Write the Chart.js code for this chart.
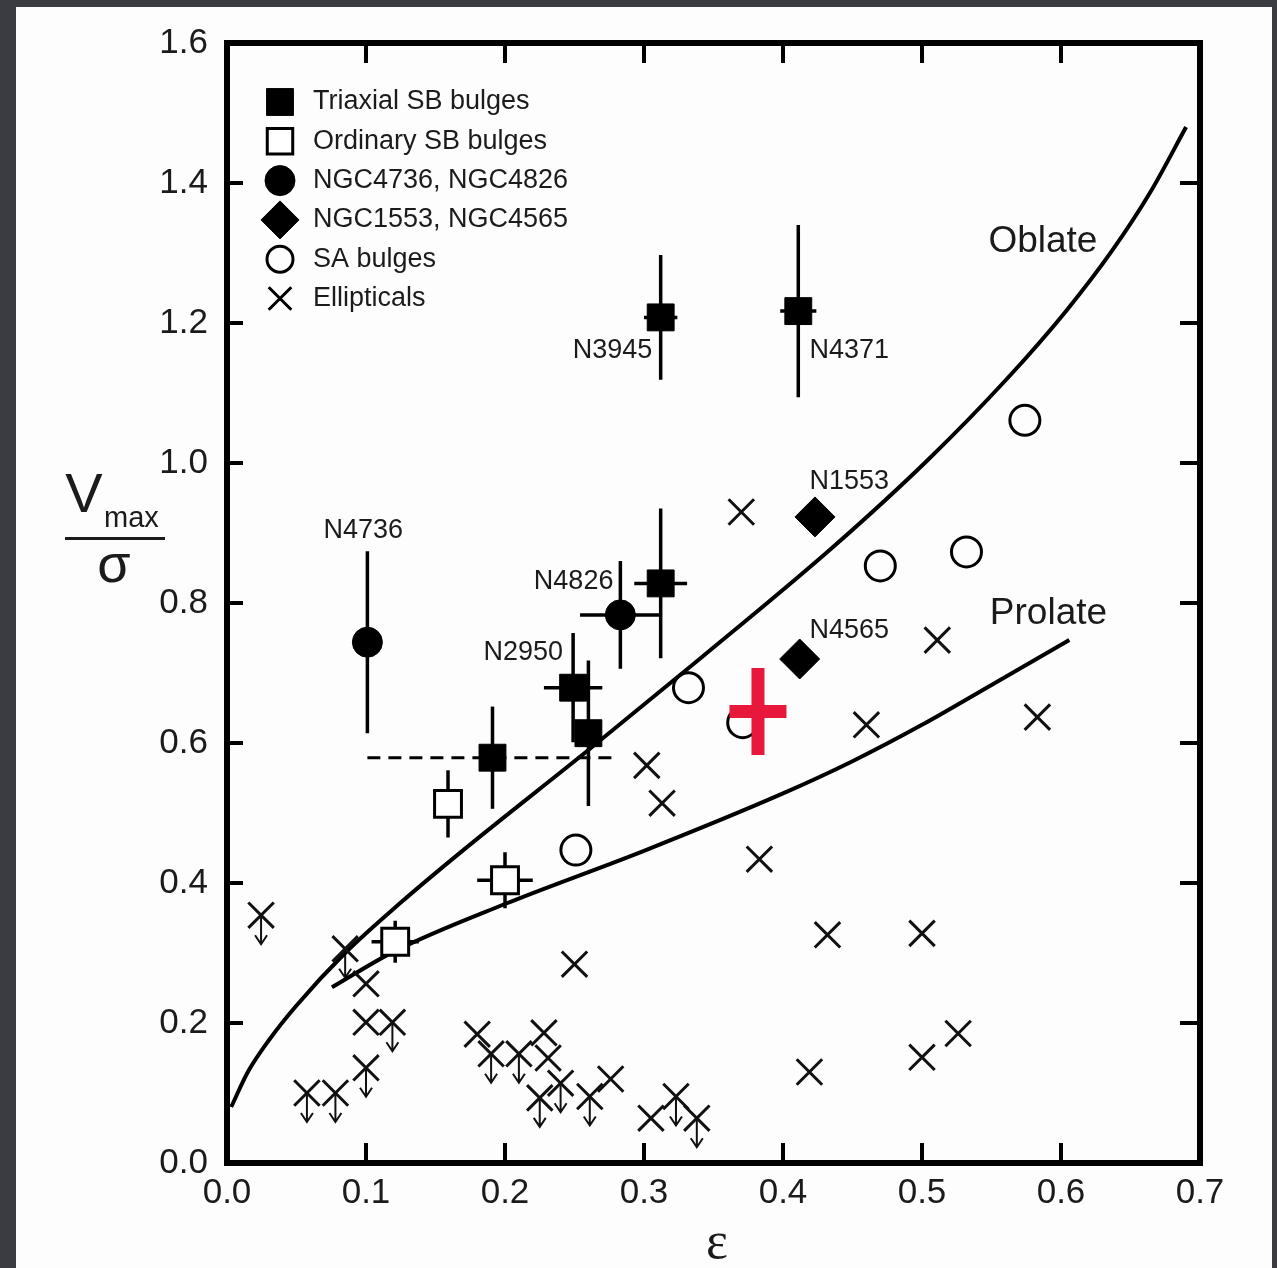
<!DOCTYPE html>
<html>
<head>
<meta charset="utf-8">
<script src="https://cdn.jsdelivr.net/npm/chart.js@4.4.0/dist/chart.umd.min.js"></script>
<style>
  html, body { margin: 0; padding: 0; background: #3b3c41; }
  canvas { display: block; }
</style>
</head>
<body>
<canvas id="chart" width="1277" height="1268"></canvas>
<script>
// values: x = ellipticity (eps), y = Vmax / sigma

// Triaxial SB bulges (filled squares) with error bars
const triEps  = [0.312, 0.411, 0.312, 0.249, 0.260, 0.191];
const triV    = [1.208, 1.217, 0.828, 0.679, 0.614, 0.579];
const triEpsErr = [0.012, 0.013, 0.019, 0.021, 0, 0];
const triVErr   = [0.089, 0.123, 0.107, 0.078, 0.104, 0.073];

// dashed range drawn for the bulge at eps ~0.19
const dashEps = [0.101, 0.281];
const dashV   = [0.579, 0.579];

// Ordinary SB bulges (open squares)
const ordEps  = [0.159, 0.200, 0.121];
const ordV    = [0.513, 0.404, 0.316];
const ordEpsErr = [0, 0.020, 0.017];
const ordVErr   = [0.048, 0.040, 0.030];

// NGC4736, NGC4826 (filled circles)
const circEps = [0.101, 0.283];
const circV   = [0.744, 0.783];
const circEpsErr = [0, 0.029];
const circVErr   = [0.130, 0.077];

// NGC1553, NGC4565 (diamonds)
const diaEps = [0.423, 0.412];
const diaV   = [0.923, 0.720];

// SA bulges (open circles)
const saEps = [0.574, 0.532, 0.470, 0.332, 0.251, 0.371];
const saV   = [1.061, 0.873, 0.853, 0.679, 0.447, 0.629];

// Ellipticals (crosses)
const ellEps = [0.100, 0.100, 0.180, 0.228, 0.231, 0.276, 0.305, 0.250, 0.383, 0.432,
                0.500, 0.526, 0.500, 0.419, 0.370, 0.302, 0.313, 0.460, 0.511, 0.583];
const ellV   = [0.256, 0.201, 0.184, 0.186, 0.150, 0.120, 0.064, 0.284, 0.434, 0.326,
                0.328, 0.185, 0.151, 0.130, 0.930, 0.568, 0.514, 0.626, 0.747, 0.637];

// Ellipticals given as upper limits (cross + down arrow)
const limEps = [0.0245, 0.085, 0.119, 0.100, 0.0575, 0.078, 0.190, 0.210, 0.240, 0.225, 0.261, 0.323, 0.338];
const limV   = [0.354, 0.306, 0.201, 0.136, 0.100, 0.100, 0.156, 0.156, 0.114, 0.093, 0.095, 0.095, 0.064];

// red cross
const redEps = [0.382];
const redV   = [0.645];
const redEpsErr = [0.0205];
const redVErr   = [0.062];

// model curves
const oblateEps = [0.003, 0.015, 0.03, 0.05, 0.085, 0.125, 0.17, 0.26, 0.34, 0.436, 0.504, 0.561, 0.604, 0.637, 0.664, 0.69];
const oblateV   = [0.080, 0.130, 0.175, 0.225, 0.300, 0.372, 0.447, 0.590, 0.720, 0.880, 1.004, 1.120, 1.218, 1.304, 1.386, 1.48];
const prolateEps = [0.0755, 0.12, 0.2, 0.3, 0.4, 0.45, 0.5, 0.55, 0.606];
const prolateV   = [0.251, 0.302, 0.370, 0.446, 0.528, 0.574, 0.626, 0.683, 0.747];

// axis ranges and labels
const xTicks = { min: 0, max: 0.7, step: 0.1 };
const yTicks = { min: 0, max: 1.6, step: 0.2 };
const legendLabels = ['Triaxial SB bulges', 'Ordinary SB bulges', 'NGC4736, NGC4826', 'NGC1553, NGC4565', 'SA bulges', 'Ellipticals'];

// text notes on the plot
const noteText  = ['N3945', 'N4371', 'N1553', 'N4565', 'N4736', 'N4826', 'N2950', 'Oblate', 'Prolate'];
const noteEps   = [0.306, 0.419, 0.419, 0.419, 0.098, 0.278, 0.2417, 0.587, 0.591];
const noteV     = [1.160, 1.160, 0.974, 0.761, 0.904, 0.830, 0.729, 1.316, 0.784];
const noteAlign = ['right', 'left', 'left', 'left', 'center', 'right', 'right', 'center', 'center'];

const zip = (xs, ys) => xs.map((v, i) => ({ x: v, y: ys[i] }));

const FONT = '"Liberation Sans", Arial, Helvetica, sans-serif';
const INK = '#1b1b1b';

const datasets = [
    { label: 'Oblate', data: zip(oblateEps, oblateV), showLine: true, pointRadius: 0,
      borderColor: '#000', borderWidth: 4, cubicInterpolationMode: 'monotone', order: 10 },
    { label: 'Prolate', data: zip(prolateEps, prolateV), showLine: true, pointRadius: 0,
      borderColor: '#000', borderWidth: 4, cubicInterpolationMode: 'monotone', order: 10 },
    { label: 'range', data: zip(dashEps, dashV), showLine: true, pointRadius: 0,
      borderColor: '#000', borderWidth: 3, borderDash: [13, 8], order: 9 },
    { label: legendLabels[0], data: zip(triEps, triV), errX: triEpsErr, errY: triVErr,
      pointStyle: 'rect', pointRadius: 19, backgroundColor: '#000', borderColor: '#000', borderWidth: 1, order: 1 },
    { label: legendLabels[1], data: zip(ordEps, ordV), errX: ordEpsErr, errY: ordVErr,
      pointStyle: 'rect', pointRadius: 19, backgroundColor: '#fff', borderColor: '#000', borderWidth: 3, order: 1 },
    { label: legendLabels[2], data: zip(circEps, circV), errX: circEpsErr, errY: circVErr,
      pointStyle: 'circle', pointRadius: 15, backgroundColor: '#000', borderColor: '#000', borderWidth: 1, order: 1 },
    { label: legendLabels[3], data: zip(diaEps, diaV),
      pointStyle: 'rectRot', pointRadius: 20, backgroundColor: '#000', borderColor: '#000', borderWidth: 1, order: 1 },
    { label: legendLabels[4], data: zip(saEps, saV),
      pointStyle: 'circle', pointRadius: 15, backgroundColor: 'rgba(255,255,255,0)', borderColor: '#000', borderWidth: 3, order: 1 },
    { label: legendLabels[5], data: zip(ellEps, ellV),
      pointStyle: 'crossRot', pointRadius: 18, borderColor: '#111', borderWidth: 3, order: 1 },
    { label: 'limits', data: zip(limEps, limV), upperLimit: true,
      pointStyle: 'crossRot', pointRadius: 18, borderColor: '#111', borderWidth: 3, order: 1 },
    { label: 'red', data: zip(redEps, redV), errX: redEpsErr, errY: redVErr, redCross: true,
      pointRadius: 0, order: 0 }
];

const pageBackground = {
    id: 'pageBackground',
    beforeDraw(chart) {
        const { ctx, width, height } = chart;
        ctx.save();
        ctx.fillStyle = '#3b3c41';
        ctx.fillRect(0, 0, width, height);
        ctx.fillStyle = '#fdfdfd';
        ctx.fillRect(16, 7, 1256, height - 7);
        ctx.restore();
    }
};

const errorBars = {
    id: 'errorBars',
    beforeDatasetsDraw(chart) {
        const { ctx, scales: { x, y } } = chart;
        ctx.save();
        chart.data.datasets.forEach(ds => {
            if (ds.upperLimit) {
                ctx.strokeStyle = '#111';
                ctx.lineWidth = 2;
                ds.data.forEach(p => {
                    const px = x.getPixelForValue(p.x), py = y.getPixelForValue(p.y);
                    ctx.beginPath();
                    ctx.moveTo(px, py);
                    ctx.lineTo(px, py + 29);
                    ctx.moveTo(px - 6, py + 20);
                    ctx.lineTo(px, py + 29);
                    ctx.lineTo(px + 6, py + 20);
                    ctx.stroke();
                });
            }
            if (!ds.errY || ds.redCross) return;
            ctx.strokeStyle = '#000';
            ctx.lineWidth = 3.5;
            ds.data.forEach((p, i) => {
                const px = x.getPixelForValue(p.x), py = y.getPixelForValue(p.y);
                const ex = ds.errX[i], ey = ds.errY[i];
                ctx.beginPath();
                if (ey) {
                    ctx.moveTo(px, y.getPixelForValue(p.y + ey));
                    ctx.lineTo(px, y.getPixelForValue(p.y - ey));
                }
                if (ex) {
                    ctx.moveTo(x.getPixelForValue(p.x - ex), py);
                    ctx.lineTo(x.getPixelForValue(p.x + ex), py);
                }
                ctx.stroke();
            });
        });
        ctx.restore();
    },
    afterDatasetsDraw(chart) {
        const { ctx, scales: { x, y } } = chart;
        ctx.save();
        // red cross on top
        chart.data.datasets.filter(ds => ds.redCross).forEach(ds => {
            ctx.strokeStyle = '#e8173c';
            ctx.lineWidth = 13;
            ds.data.forEach((p, i) => {
                const px = x.getPixelForValue(p.x), py = y.getPixelForValue(p.y);
                ctx.beginPath();
                ctx.moveTo(px, y.getPixelForValue(p.y + ds.errY[i]));
                ctx.lineTo(px, y.getPixelForValue(p.y - ds.errY[i]));
                ctx.moveTo(x.getPixelForValue(p.x - ds.errX[i]), py);
                ctx.lineTo(x.getPixelForValue(p.x + ds.errX[i]), py);
                ctx.stroke();
            });
        });
        // text notes
        ctx.fillStyle = INK;
        ctx.textBaseline = 'middle';
        noteText.forEach((t, i) => {
            const big = t === 'Oblate' || t === 'Prolate';
            ctx.font = (big ? '37px ' : '27px ') + FONT;
            ctx.textAlign = noteAlign[i];
            ctx.fillText(t, x.getPixelForValue(noteEps[i]), y.getPixelForValue(noteV[i]));
        });
        ctx.restore();
    }
};

const frameAndTitles = {
    id: 'frameAndTitles',
    afterDraw(chart) {
        const { ctx, chartArea: a, scales: { x, y } } = chart;
        ctx.save();
        // inward ticks
        ctx.strokeStyle = '#000';
        ctx.lineWidth = 4;
        ctx.beginPath();
        x.ticks.forEach(t => {
            const px = x.getPixelForValue(t.value);
            ctx.moveTo(px, a.bottom); ctx.lineTo(px, a.bottom - 20);
            ctx.moveTo(px, a.top); ctx.lineTo(px, a.top + 20);
        });
        y.ticks.forEach(t => {
            const py = y.getPixelForValue(t.value);
            ctx.moveTo(a.left, py); ctx.lineTo(a.left + 16, py);
            ctx.moveTo(a.right, py); ctx.lineTo(a.right - 20, py);
        });
        ctx.stroke();
        // frame
        ctx.lineWidth = 6;
        ctx.strokeRect(a.left, a.top, a.right - a.left, a.bottom - a.top);

        // legend
        const rowY = a.top + 59, rowH = 39.3, symX = a.left + 53, txtX = a.left + 86;
        const legendSymbols = [
            { pointStyle: 'rect', radius: 19, fill: '#000', bw: 1 },
            { pointStyle: 'rect', radius: 18, fill: '#fff', bw: 3 },
            { pointStyle: 'circle', radius: 15, fill: '#000', bw: 1 },
            { pointStyle: 'rectRot', radius: 19, fill: '#000', bw: 1 },
            { pointStyle: 'circle', radius: 13, fill: 'rgba(0,0,0,0)', bw: 3 },
            { pointStyle: 'crossRot', radius: 16, fill: 'rgba(0,0,0,0)', bw: 3 }
        ];
        legendLabels.forEach((lab, i) => {
            const s = legendSymbols[i];
            const cy = rowY + i * rowH;
            ctx.fillStyle = s.fill;
            ctx.strokeStyle = '#000';
            ctx.lineWidth = s.bw;
            Chart.helpers.drawPoint(ctx, { pointStyle: s.pointStyle, radius: s.radius, rotation: 0, borderWidth: s.bw }, symX, cy);
            ctx.fillStyle = INK;
            ctx.font = '27px ' + FONT;
            ctx.textAlign = 'left';
            ctx.textBaseline = 'middle';
            ctx.fillText(lab, txtX, cy);
        });

        // y title: Vmax over sigma
        ctx.fillStyle = INK;
        ctx.textAlign = 'center';
        ctx.textBaseline = 'alphabetic';
        ctx.font = '56px ' + FONT;
        ctx.fillText('V', 84, 512);
        ctx.font = '29px ' + FONT;
        ctx.textAlign = 'left';
        ctx.fillText('max', 104, 527);
        ctx.fillRect(65, 537, 100, 3);
        ctx.textAlign = 'center';
        ctx.font = '54px ' + FONT;
        ctx.fillText('σ', 114, 582);
        // x title
        ctx.font = '52px "Liberation Serif", "DejaVu Serif", serif';
        ctx.fillText('ε', 717, 1258);
        ctx.restore();
    }
};

new Chart(document.getElementById('chart'), {
    type: 'scatter',
    data: { datasets },
    options: {
        responsive: false,
        animation: false,
        layout: { padding: { top: 43, right: 77, left: 0, bottom: 0 } },
        plugins: { legend: { display: false }, tooltip: { enabled: false } },
        scales: {
            x: {
                type: 'linear', min: xTicks.min, max: xTicks.max,
                grid: { display: false, drawTicks: false },
                border: { display: false },
                afterFit: s => { s.height = 105; },
                ticks: {
                    stepSize: xTicks.step, autoSkip: false, maxRotation: 0, padding: 9,
                    color: INK, font: { size: 35, family: FONT },
                    callback: v => v.toFixed(1)
                }
            },
            y: {
                type: 'linear', min: yTicks.min, max: yTicks.max,
                grid: { display: false, drawTicks: false },
                border: { display: false },
                afterFit: s => { s.width = 227; },
                ticks: {
                    stepSize: yTicks.step, autoSkip: false, padding: 19,
                    color: INK, font: { size: 35, family: FONT },
                    callback: v => v.toFixed(1)
                }
            }
        }
    },
    plugins: [pageBackground, errorBars, frameAndTitles]
});
</script>
</body>
</html>
